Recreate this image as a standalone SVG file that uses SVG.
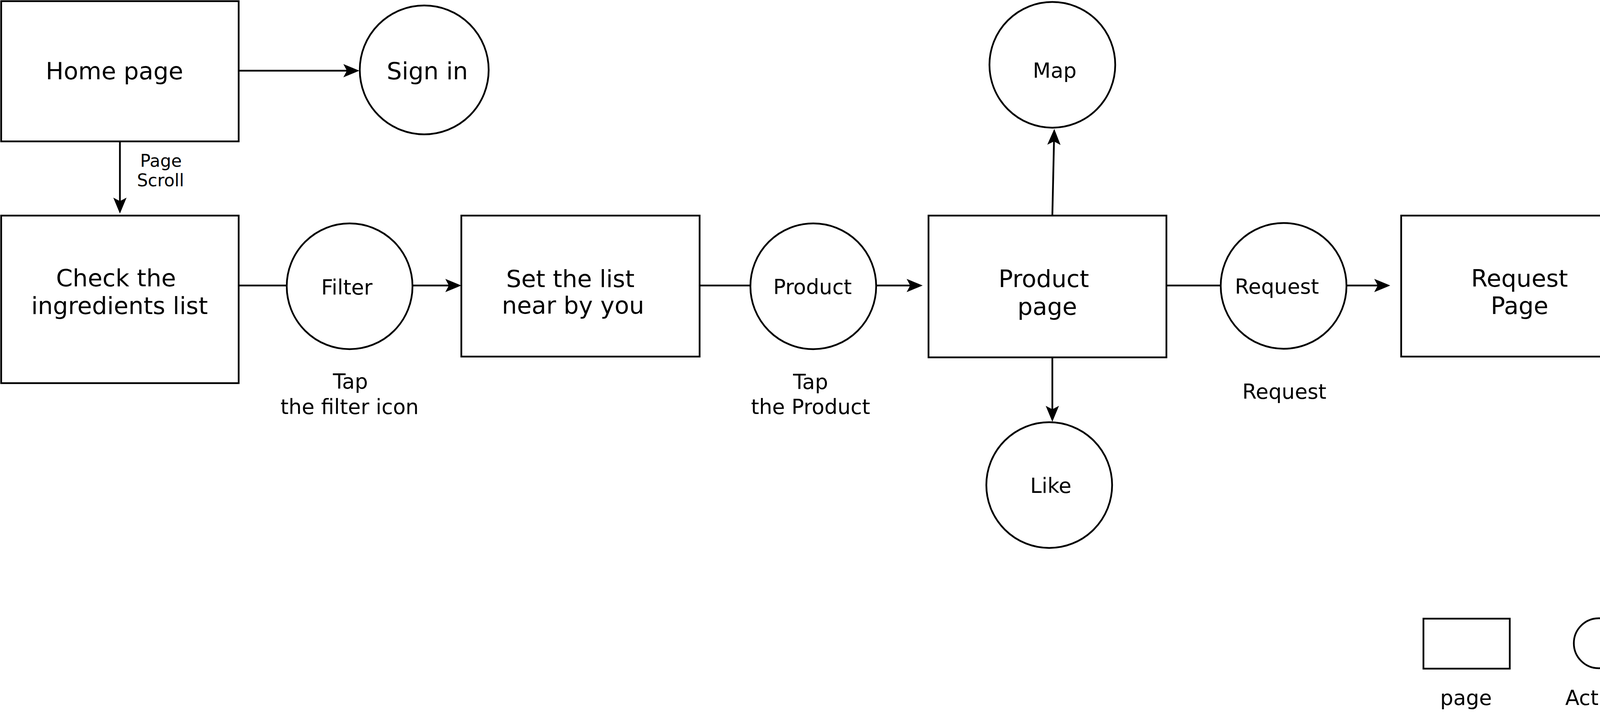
<svg xmlns="http://www.w3.org/2000/svg" width="4197" height="1823" viewBox="0 0 4197 1823">
<style>
.box{fill:#fff;stroke:#000;stroke-width:4.5}
.act{fill:#fff;stroke:#000;stroke-width:4.5}
.edge{fill:none;stroke:#000;stroke-width:4.5}
text{font-family:"DejaVu Sans","Liberation Sans",sans-serif;fill:#000;text-anchor:middle}
.big{font-size:61px}
.sm{font-size:53px}
.xs{font-size:44px}
</style>
<defs>
<marker id="arr" markerUnits="userSpaceOnUse" markerWidth="44" markerHeight="36" refX="21" refY="17" orient="auto" overflow="visible">
<path d="M41,17 L0,0 L9,17 L0,34 Z" fill="#000" stroke="none"/>
</marker>
</defs>
<rect width="4197" height="1823" fill="#fff"/>
<g id="connectors">
<line class="edge" x1="611" y1="181" x2="900" y2="181" marker-end="url(#arr)"/>
<line class="edge" x1="307" y1="362" x2="307" y2="527" marker-end="url(#arr)"/>
<line class="edge" x1="611" y1="731" x2="734" y2="731"/>
<line class="edge" x1="1055" y1="731" x2="1161" y2="731" marker-end="url(#arr)"/>
<line class="edge" x1="1791" y1="731" x2="1921" y2="731"/>
<line class="edge" x1="2243" y1="731" x2="2342" y2="731" marker-end="url(#arr)"/>
<line class="edge" x1="2986" y1="731" x2="3125" y2="731"/>
<line class="edge" x1="3447" y1="731" x2="3539" y2="731" marker-end="url(#arr)"/>
<line class="edge" x1="2694" y1="552" x2="2698.5" y2="350" marker-end="url(#arr)"/>
<line class="edge" x1="2694" y1="915" x2="2694" y2="1060" marker-end="url(#arr)"/>
</g>
<g id="home-page">
<rect class="box" x="3" y="3" width="608" height="359"/>
<text class="big" x="293" y="203">Home page</text>
</g>
<g id="sign-in">
<circle class="act" cx="1086" cy="179" r="165"/>
<text class="big" x="1094" y="203">Sign in</text>
</g>
<g id="label-page-scroll">
<text class="xs" x="412" y="427">Page</text>
<text class="xs" x="411" y="477">Scroll</text>
</g>
<g id="check-ingredients">
<rect class="box" x="3" y="552" width="608" height="429"/>
<text class="big" x="297" y="733">Check the</text>
<text class="big" x="306" y="804">ingredients list</text>
</g>
<g id="filter">
<circle class="act" cx="895" cy="733" r="161"/>
<text class="sm" x="888" y="754">Filter</text>
</g>
<g id="label-tap-filter">
<text class="sm" x="897" y="995">Tap</text>
<text class="sm" x="895" y="1060">the filter icon</text>
</g>
<g id="set-list">
<rect class="box" x="1181" y="552" width="610" height="361"/>
<text class="big" x="1460" y="735">Set the list</text>
<text class="big" x="1467" y="803">near by you</text>
</g>
<g id="product-action">
<circle class="act" cx="2082" cy="733" r="161"/>
<text class="sm" x="2080" y="753">Product</text>
</g>
<g id="label-tap-product">
<text class="sm" x="2075" y="996">Tap</text>
<text class="sm" x="2075" y="1060">the Product</text>
</g>
<g id="product-page">
<rect class="box" x="2377" y="552" width="609" height="363"/>
<text class="big" x="2672" y="735">Product</text>
<text class="big" x="2681" y="806">page</text>
</g>
<g id="map">
<circle class="act" cx="2694" cy="166" r="161"/>
<text class="sm" x="2700" y="199">Map</text>
</g>
<g id="like">
<circle class="act" cx="2686" cy="1242" r="161"/>
<text class="sm" x="2690" y="1262">Like</text>
</g>
<g id="request-action">
<circle class="act" cx="3286" cy="732" r="161"/>
<text class="sm" x="3269" y="752">Request</text>
</g>
<g id="label-request">
<text class="sm" x="3288" y="1021">Request</text>
</g>
<g id="request-page">
<rect class="box" x="3587" y="552" width="605" height="361"/>
<text class="big" x="3890" y="734">Request</text>
<text class="big" x="3890" y="804">Page</text>
</g>
<g id="legend-page">
<rect class="box" x="3644" y="1584" width="221" height="128"/>
<text class="sm" x="3753" y="1805">page</text>
</g>
<g id="legend-action">
<circle class="act" cx="4093" cy="1647" r="64"/>
<text class="sm" x="4090" y="1805">Action</text>
</g>
</svg>
